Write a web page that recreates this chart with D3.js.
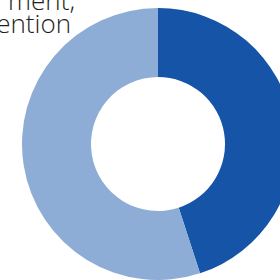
<!DOCTYPE html>
<html><head><meta charset="utf-8">
<script src="https://cdn.jsdelivr.net/npm/d3@7"></script>
<style>html,body{margin:0;padding:0;background:#fff;overflow:hidden}</style>
</head><body>
<svg id="c" width="280" height="280"></svg>
<script>
const categories = ["Dark segment", "Light segment"];
const values = [45, 55];
const colors = ["#1554a6", "#8eadd6"];
const labelLines = ["ment,", "ention"];

const svg = d3.select("#c");
const cx = 158, cy = 144, outerR = 136, innerR = 67;
const pie = d3.pie().sort(null).value(d => d)(values);
const arc = d3.arc().innerRadius(innerR).outerRadius(outerR);
svg.append("g").attr("transform", `translate(${cx},${cy})`)
  .selectAll("path").data(pie).enter().append("path")
  .attr("d", arc).attr("fill", (d, i) => colors[i]);

const t = svg.append("text").attr("font-family", "'Open Sans', sans-serif")
  .attr("font-size", 26).attr("font-weight", 300).attr("fill", "#1e1e1e").attr("text-anchor", "end");
t.append("tspan").attr("x", 75).attr("y", 10).text(labelLines[0]);
t.append("tspan").attr("x", 71).attr("y", 33).text(labelLines[1]);
</script>
</body></html>
